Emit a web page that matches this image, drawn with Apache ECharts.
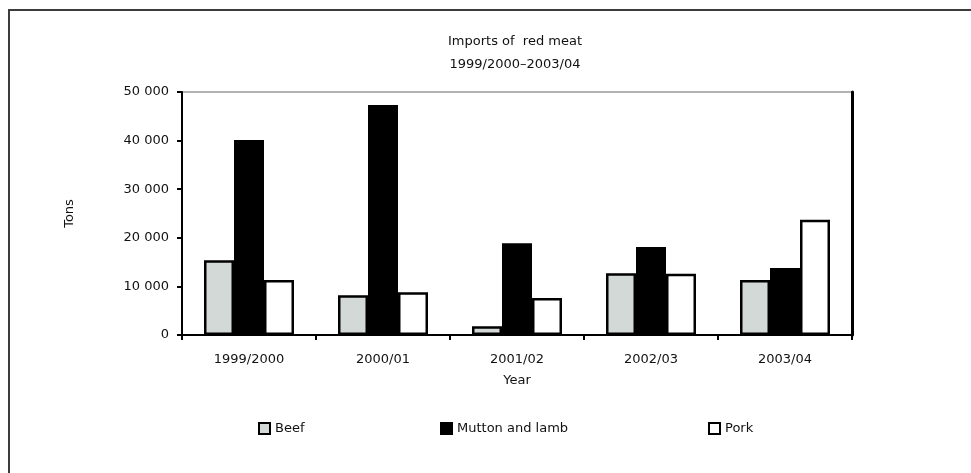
<!DOCTYPE html>
<html>
<head>
<meta charset="utf-8">
<title>Imports of red meat</title>
<script src="https://cdn.jsdelivr.net/npm/echarts@6/dist/echarts.min.js"></script>
<style>
  html, body { margin: 0; padding: 0; background: #fff; }
  #main { width: 971px; height: 473px; }
</style>
</head>
<body>
<div id="main"></div>
<script>
// data (tons)
var years = ['1999/2000', '2000/01', '2001/02', '2002/03', '2003/04'];
var beef = [15400, 8200, 1800, 12700, 11300];
var mutton = [40100, 47300, 18900, 18100, 13800];
var pork = [11300, 8800, 7600, 12600, 23700];
var yTicks = [0, 10000, 20000, 30000, 40000, 50000];

var textFont = 'DejaVu Sans';
var textColor = '#111';

/**
 * 50000 -> "50 000"
 */
function fmt(v) {
    return String(v).replace(/\B(?=(\d{3})+(?!\d))/g, ' ');
}

var chart = echarts.init(document.getElementById('main'));

function barSeries(name, data, fill) {
    return {
        name: name,
        type: 'bar',
        data: data,
        barWidth: 30,
        barGap: '0%',
        itemStyle: { color: fill, borderColor: '#000', borderWidth: 2.5 }
    };
}

function legendAt(name, left) {
    return {
        data: [name],
        left: left,
        top: 417,
        itemWidth: 11,
        itemHeight: 11,
        itemGap: 3,
        icon: 'rect',
        textStyle: { fontFamily: textFont, fontSize: 13, color: textColor }
    };
}

chart.setOption({
    animation: false,
    backgroundColor: '#fff',
    title: {
        text: 'Imports of  red meat\n1999/2000\u20132003/04',
        left: 510,
        top: 25,
        textAlign: 'center',
        textStyle: {
            fontFamily: textFont, fontSize: 13, fontWeight: 'normal',
            color: textColor, lineHeight: 23
        }
    },
    legend: [
        legendAt('Beef', 253),
        legendAt('Mutton and lamb', 435),
        legendAt('Pork', 703)
    ],
    // thin grey frame, the axes draw over the left, bottom and right sides
    grid: {
        left: 182, right: 119, top: 92, bottom: 138,
        show: true, borderColor: '#666', borderWidth: 1
    },
    graphic: [{
        type: 'rect',
        shape: { x: 9, y: 10, width: 1000, height: 500 },
        style: { fill: null, stroke: '#3c3c3c', lineWidth: 2 },
        silent: true
    }],
    xAxis: {
        type: 'category',
        data: years,
        name: 'Year',
        nameLocation: 'middle',
        nameGap: 39,
        nameTextStyle: { fontFamily: textFont, fontSize: 13, color: textColor },
        axisLine: { lineStyle: { color: '#000', width: 2 } },
        axisTick: { show: true, length: 5, lineStyle: { color: '#000', width: 2 } },
        axisLabel: { margin: 18, fontFamily: textFont, fontSize: 13, color: textColor }
    },
    yAxis: [{
        type: 'value',
        min: 0,
        max: 50000,
        interval: 10000,
        name: 'Tons',
        nameLocation: 'middle',
        nameGap: 106,
        nameTextStyle: { fontFamily: textFont, fontSize: 13, color: textColor },
        axisLine: { show: true, lineStyle: { color: '#000', width: 2 } },
        axisTick: { show: true, length: 5, lineStyle: { color: '#000', width: 2 } },
        splitLine: { show: false },
        axisLabel: {
            margin: 13,
            fontFamily: textFont, fontSize: 13, color: textColor,
            formatter: function (v) { return yTicks.indexOf(v) >= 0 ? fmt(v) : ''; }
        }
    }, {
        // thick right border
        type: 'value',
        min: 0,
        max: 50000,
        position: 'right',
        axisLine: { show: true, lineStyle: { color: '#000', width: 3 } },
        axisTick: { show: false },
        axisLabel: { show: false },
        splitLine: { show: false }
    }],
    series: [
        barSeries('Beef', beef, '#d3d9d6'),
        barSeries('Mutton and lamb', mutton, '#000'),
        barSeries('Pork', pork, '#fff')
    ]
});
</script>
</body>
</html>
